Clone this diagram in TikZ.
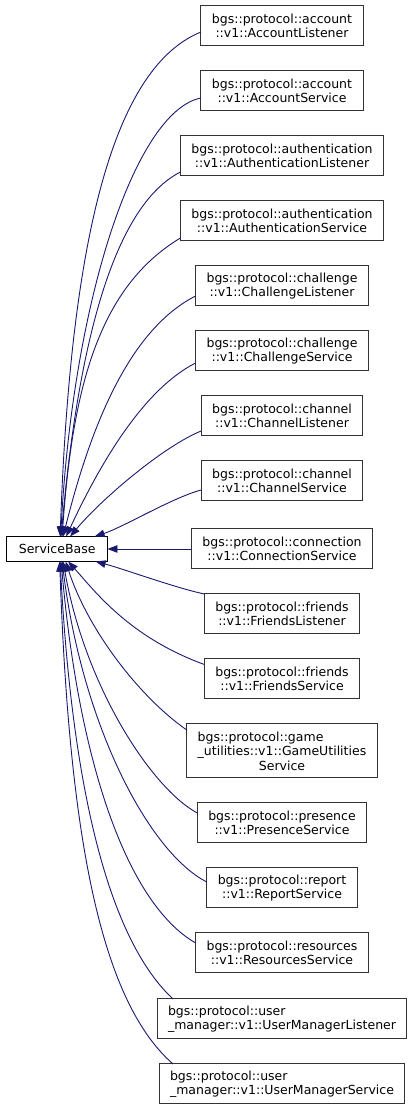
\documentclass[tikz,border=0pt]{standalone}
\usepackage{fontspec}
\setmainfont{DejaVu Sans}
\usetikzlibrary{positioning,arrows.meta}
\definecolor{edgeblue}{HTML}{191970}

\begin{document}
\begin{tikzpicture}[x=1pt, y=1pt,
    node distance=25pt and 84pt,
    cls/.style={draw=black!80, fill=white, align=center, line width=1pt, outer sep=0pt,
                font=\fontsize{12.5}{14.5}\selectfont, inner xsep=11pt, inner ysep=2pt,
                minimum height=40pt},
    root/.style={cls, draw=black, minimum height=25pt, inner xsep=12pt},
    inh/.style={-{Triangle[length=10pt,width=7.5pt]}, draw=edgeblue, line width=0.9pt},
  ]
  \useasboundingbox (0,0) rectangle (415,1111);

  \node[cls] at (282,1085)      (al)  {bgs::protocol::account\\::v1::AccountListener};
  \node[cls, below=of al]       (as)  {bgs::protocol::account\\::v1::AccountService};
  \node[cls, below=of as]       (aul) {bgs::protocol::authentication\\::v1::AuthenticationListener};
  \node[cls, below=of aul]      (aus) {bgs::protocol::authentication\\::v1::AuthenticationService};
  \node[cls, below=of aus]      (cl)  {bgs::protocol::challenge\\::v1::ChallengeListener};
  \node[cls, below=of cl]       (cs)  {bgs::protocol::challenge\\::v1::ChallengeService};
  \node[cls, below=of cs]       (chl) {bgs::protocol::channel\\::v1::ChannelListener};
  \node[cls, below=of chl]      (chs) {bgs::protocol::channel\\::v1::ChannelService};
  \node[cls, below=28pt of chs] (con) {bgs::protocol::connection\\::v1::ConnectionService};
  \node[cls, below=of con]      (fl)  {bgs::protocol::friends\\::v1::FriendsListener};
  \node[cls, below=of fl]       (fs)  {bgs::protocol::friends\\::v1::FriendsService};
  \node[cls, below=of fs, minimum height=54pt] (gu)
    {\rlap{bgs::protocol::game}\phantom{\_utilities::v1::GameUtilities}\\\_utilities::v1::GameUtilities\\Service};
  \node[cls, below=of gu]       (pr)  {bgs::protocol::presence\\::v1::PresenceService};
  \node[cls, below=of pr]       (rp)  {bgs::protocol::report\\::v1::ReportService};
  \node[cls, below=of rp]       (rs)  {bgs::protocol::resources\\::v1::ResourcesService};
  \node[cls, below=26pt of rs, align=left] (uml) {bgs::protocol::user\\\_manager::v1::UserManagerListener};
  \node[cls, below=of uml, align=left]     (ums) {bgs::protocol::user\\\_manager::v1::UserManagerService};

  \node[root, left=of con] (svcbase) {ServiceBase};

  % derived classes above the base
  \draw[inh] ([yshift=-6pt]al.west)   .. controls +(202:100) and +(88:280) .. ([xshift=3pt]svcbase.north);
  \draw[inh] ([yshift=-7pt]as.west)   .. controls +(191:66) and +(87:240) .. ([xshift=3.5pt]svcbase.north);
  \draw[inh] ([yshift=-16pt]aul.west) .. controls +(207:73) and +(85:200) .. ([xshift=4pt]svcbase.north);
  \draw[inh] ([yshift=-17pt]aus.west) .. controls +(211:95) and +(86:150) .. ([xshift=5pt]svcbase.north);
  \draw[inh] ([yshift=-10pt]cl.west)  .. controls +(207:72) and +(76:120) .. ([xshift=6pt]svcbase.north);
  \draw[inh] ([yshift=-12pt]cs.west)  .. controls +(207:55) and +(65:90) .. ([xshift=9pt]svcbase.north);
  \draw[inh] ([yshift=-15pt]chl.west) .. controls +(202:40) and +(50:50) .. ([xshift=13pt]svcbase.north);
  \draw[inh] ([yshift=-9pt]chs.west)  .. controls +(195:30) and +(18:30) .. ([xshift=37.5pt]svcbase.north);
  \draw[inh] (con.west) -- (svcbase.east);
  % derived classes below the base
  \draw[inh] (fl.north west)          .. controls +(168:30) and +(-15:30) .. ([xshift=38.5pt]svcbase.south);
  \draw[inh] ([yshift=14.5pt]fs.west) .. controls +(160:80) and +(-48:40) .. ([xshift=11pt]svcbase.south);
  \draw[inh] ([yshift=21pt]gu.west)   .. controls +(145:60) and +(-72:70) .. ([xshift=8.5pt]svcbase.south);
  \draw[inh] ([yshift=10pt]pr.west)   .. controls +(152:50) and +(-80:130) .. ([xshift=6pt]svcbase.south);
  \draw[inh] ([yshift=6pt]rp.west)    .. controls +(153:65) and +(-83:165) .. ([xshift=5pt]svcbase.south);
  \draw[inh] ([yshift=10pt]rs.west)   .. controls +(150:80) and +(-85:200) .. ([xshift=4pt]svcbase.south);
  \draw[inh] ([xshift=16pt]uml.north west) .. controls +(137:88) and +(-87:228) .. ([xshift=3pt]svcbase.south);
  \draw[inh] ([xshift=14pt]ums.north west) .. controls +(139:100) and +(-88:262) .. ([xshift=2.5pt]svcbase.south);
\end{tikzpicture}
\end{document}
